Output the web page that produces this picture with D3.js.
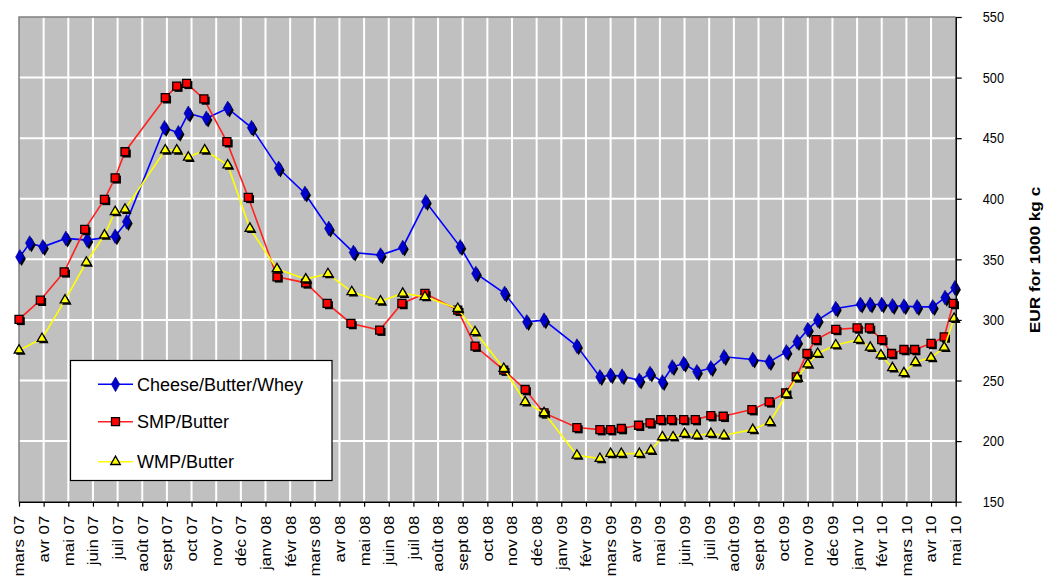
<!DOCTYPE html>
<html><head><meta charset="utf-8">
<script src="https://cdn.jsdelivr.net/npm/d3@7"></script>
<style>body{margin:0;background:#fff}svg{display:block;font-family:"Liberation Sans",Arial,sans-serif}</style>
</head><body><svg id="c" width="1045" height="581"></svg>
<script>
const monthLabels = ["mars 07","avr 07","mai 07","juin 07","juil 07","août 07","sept 07","oct 07","nov 07","déc 07",
"janv 08","févr 08","mars 08","avr 08","mai 08","juin 08","juil 08","août 08","sept 08","oct 08","nov 08","déc 08",
"janv 09","févr 09","mars 09","avr 09","mai 09","juin 09","juil 09","août 09","sept 09","oct 09","nov 09","déc 09",
"janv 10","févr 10","mars 10","avr 10","mai 10"];
const yTicks = [150,200,250,300,350,400,450,500,550];
const seriesNames = ["Cheese/Butter/Whey","SMP/Butter","WMP/Butter"];
const axisTitle = "EUR for 1000 kg c";

const cbwDates = ["2007-03-02","2007-03-14","2007-03-30","2007-04-28","2007-05-24","2007-06-28","2007-07-12","2007-08-28","2007-09-15","2007-09-27","2007-10-19","2007-11-15","2007-12-14",
"2008-01-17","2008-02-19","2008-03-18","2008-04-18","2008-05-21","2008-06-18","2008-07-16","2008-08-28","2008-09-17","2008-10-22","2008-11-19","2008-12-10",
"2009-01-20","2009-02-18","2009-03-01","2009-03-15","2009-04-06","2009-04-19","2009-05-04","2009-05-16","2009-05-30","2009-06-16","2009-07-03","2009-07-19","2009-08-24","2009-09-14","2009-10-05","2009-10-18","2009-11-01","2009-11-13","2009-12-05",
"2010-01-05","2010-01-17","2010-02-01","2010-02-14","2010-02-28","2010-03-14","2010-04-03","2010-04-18","2010-04-30"];
const cbwValues = [352,363.4,360.3,367.3,365.9,369.1,381,458.6,454.5,470.5,466.4,474.6,458.7,
425.1,404.4,375.5,355.7,353.5,359.8,397.5,360.3,338.3,321.9,298.4,299.8,
278.4,253,254.4,253.6,250.2,255.8,248.8,261.2,264,257.2,260.4,269.6,267.4,265.4,273.6,281.9,292.1,299.8,309.4,
312.8,312.8,312.8,311.7,311.4,310.8,310.8,318.5,326.5];

const smpDates = ["2007-03-01","2007-03-27","2007-04-26","2007-05-21","2007-06-15","2007-06-28","2007-07-10","2007-08-29","2007-09-13","2007-09-25","2007-10-16","2007-11-14","2007-12-10",
"2008-01-15","2008-02-20","2008-03-16","2008-04-15","2008-05-20","2008-06-17","2008-07-15","2008-08-25","2008-09-16","2008-10-21","2008-11-17","2008-12-10",
"2009-01-20","2009-02-18","2009-03-01","2009-03-14","2009-04-05","2009-04-19","2009-05-02","2009-05-15","2009-05-30","2009-06-14","2009-07-03","2009-07-18","2009-08-23","2009-09-14","2009-10-04","2009-10-17","2009-10-30","2009-11-11","2009-12-05",
"2010-01-01","2010-01-16","2010-02-01","2010-02-13","2010-02-28","2010-03-11","2010-04-01","2010-04-17","2010-04-28"];
const smpValues = [300.5,316.3,339.7,374.7,399.5,417.3,438.8,483.4,493,495.3,482.4,447.1,401.2,
335.6,330.6,313.6,297.1,291.6,313.6,321.9,308.1,278.4,258.6,242.6,223.3,
211.2,209.5,209.5,210.4,213.1,215.1,217.8,217.8,217.8,217.8,221,220.5,226,232.4,239.8,253,272.3,283.8,292.2,
293.4,293.4,283.8,272.3,275.6,275.6,280.6,286,313.6];

const wmpDates = ["2007-03-01","2007-03-29","2007-04-27","2007-05-23","2007-06-15","2007-06-28","2007-07-10","2007-08-29","2007-09-13","2007-09-27","2007-10-17","2007-11-15","2007-12-12",
"2008-01-15","2008-02-20","2008-03-17","2008-04-16","2008-05-21","2008-06-18","2008-07-15","2008-08-25","2008-09-16","2008-10-21","2008-11-17","2008-12-10",
"2009-01-20","2009-02-18","2009-03-01","2009-03-14","2009-04-06","2009-04-20","2009-05-04","2009-05-17","2009-06-01","2009-06-16","2009-07-03","2009-07-19","2009-08-24","2009-09-15","2009-10-05","2009-10-18","2009-11-01","2009-11-13","2009-12-05",
"2010-01-03","2010-01-17","2010-01-30","2010-02-14","2010-02-28","2010-03-12","2010-04-01","2010-04-17","2010-04-29"];
const wmpValues = [275,284.6,316.3,347.6,370,389.3,391.3,440.2,440.2,434.2,440.2,427.8,375.5,
342.1,333.7,338.1,323.2,315.5,321.9,319.1,309.4,290.2,259.9,232.4,223.3,
188.3,185.6,189.7,189.7,189.7,192.4,203.4,203.4,206.2,204.8,206.2,204.8,209.5,215.8,238.7,252.5,263.5,272.3,279.3,
283.8,277.3,271,260.4,256.3,265.4,268.9,277.3,301.2];

function monthIndex(s){const [Y,M,D]=s.split("-").map(Number);return (Y-2007)*12+(M-3)+(D-1)/30;}

const series = [
  {name:seriesNames[0], dates:cbwDates, values:cbwValues, color:"#0000FF", shape:"diamond", fill:"#0000CC"},
  {name:seriesNames[1], dates:smpDates, values:smpValues, color:"#FF2020", shape:"square", fill:"#FF0000"},
  {name:seriesNames[2], dates:wmpDates, values:wmpValues, color:"#FFFF00", shape:"triangle", fill:"#FFFF00"}
];

const svg = d3.select("#c");
const x = d3.scaleLinear().domain([0, monthLabels.length-1]).range([19, 955.7]);
const y = d3.scaleLinear().domain([150, 550]).range([501.7, 17]);

function stretch(sel, k){ sel.each(function(){ const l=this.getComputedTextLength(); d3.select(this).attr("textLength", l*k).attr("lengthAdjust","spacingAndGlyphs"); }); }

// plot background
svg.append("rect").attr("x",x(0)).attr("y",y(550)).attr("width",x(38)-x(0)).attr("height",y(150)-y(550)).attr("fill","#C0C0C0");
// gridlines
svg.append("g").selectAll("line").data(d3.range(1, monthLabels.length-1)).join("line")
  .attr("x1",d=>x(d)).attr("x2",d=>x(d)).attr("y1",y(550)).attr("y2",y(150)).attr("stroke","#fff").attr("stroke-width",2);
svg.append("g").selectAll("line").data(yTicks.slice(1,-1)).join("line")
  .attr("x1",x(0)).attr("x2",x(38)).attr("y1",d=>y(d)).attr("y2",d=>y(d)).attr("stroke","#fff").attr("stroke-width",2);
// plot border top/left
svg.append("path").attr("d",`M${x(0)},${y(150)}V${y(550)}H${x(38)}`).attr("fill","none").attr("stroke","#808080").attr("stroke-width",1.5);

// symbols
function sym(shape){
  if(shape==="diamond") return d3.symbol(d3.symbolDiamond, 62)();
  if(shape==="square") return d3.symbol(d3.symbolSquare, 64)();
  return d3.symbol(d3.symbolTriangle, 40)();
}

const line = d3.line().x(d=>x(d[0])).y(d=>y(d[1]));
series.forEach(s=>{
  const pts = s.dates.map((dt,i)=>[monthIndex(dt), s.values[i]]);
  svg.append("path").datum(pts).attr("d",line).attr("fill","none").attr("stroke",s.color).attr("stroke-width",1.6);
  const g = svg.append("g");
  g.selectAll("path.sh").data(pts).join("path").attr("class","sh").attr("d",sym(s.shape))
    .attr("transform",d=>`translate(${x(d[0])+1.8},${y(d[1])+1.8})`).attr("fill","#000");
  g.selectAll("path.mk").data(pts).join("path").attr("class","mk").attr("d",sym(s.shape))
    .attr("transform",d=>`translate(${x(d[0])},${y(d[1])})`).attr("fill",s.fill)
    .attr("stroke", s.shape==="diamond" ? "#000080" : "#000").attr("stroke-width", s.shape==="diamond"?0.6:1.3);
});

// axes
const xAxis = svg.append("g").attr("transform",`translate(0,${y(150)})`)
  .call(d3.axisBottom(x).tickValues(d3.range(monthLabels.length)).tickFormat(i=>monthLabels[i]).tickSize(5).tickSizeOuter(0));
xAxis.select(".domain").attr("stroke","#000").attr("stroke-width",1.5);
xAxis.selectAll(".tick line").attr("stroke","#000").attr("stroke-width",1.2);
const xt = xAxis.selectAll(".tick text").attr("transform","rotate(-90)").attr("text-anchor","end")
  .attr("x",-14).attr("y",0).attr("dy","0.35em").attr("dx",0).style("font-size","14px").attr("fill","#000");
stretch(xt, 1.2);

const yAxis = svg.append("g").attr("transform",`translate(${x(38)},0)`)
  .call(d3.axisRight(y).tickValues(yTicks).tickSize(6).tickPadding(21).tickSizeOuter(0));
yAxis.select(".domain").attr("stroke","#000").attr("stroke-width",1.5);
yAxis.selectAll(".tick line").attr("stroke","#000").attr("stroke-width",1.2);
const yt = yAxis.selectAll(".tick text").style("font-size","15px").attr("fill","#000");
stretch(yt, 0.85);

const title = svg.append("text").attr("transform","translate(1040,260) rotate(-90)").attr("text-anchor","middle")
  .style("font-size","14px").style("font-weight","bold").text(axisTitle);
stretch(title, 1.23);

// legend
const lg = svg.append("g");
lg.append("rect").attr("x",70.5).attr("y",360.5).attr("width",261.5).attr("height",120).attr("fill","#fff").attr("stroke","#000").attr("stroke-width",1.2);
const ly = [384.3, 421.7, 461.7];
series.forEach((s,i)=>{
  lg.append("line").attr("x1",98).attr("x2",133).attr("y1",ly[i]).attr("y2",ly[i]).attr("stroke",s.color).attr("stroke-width",1.6);
  lg.append("path").attr("d",sym(s.shape)).attr("transform",`translate(115.5,${ly[i]})`).attr("fill",s.fill)
    .attr("stroke", s.shape==="diamond" ? "#000080" : "#000").attr("stroke-width", s.shape==="diamond"?0.6:1.3);
  lg.append("text").attr("x",137).attr("y",ly[i]).attr("dy","0.35em").style("font-size","18px").attr("fill","#000").text(s.name);
});
</script></body></html>
